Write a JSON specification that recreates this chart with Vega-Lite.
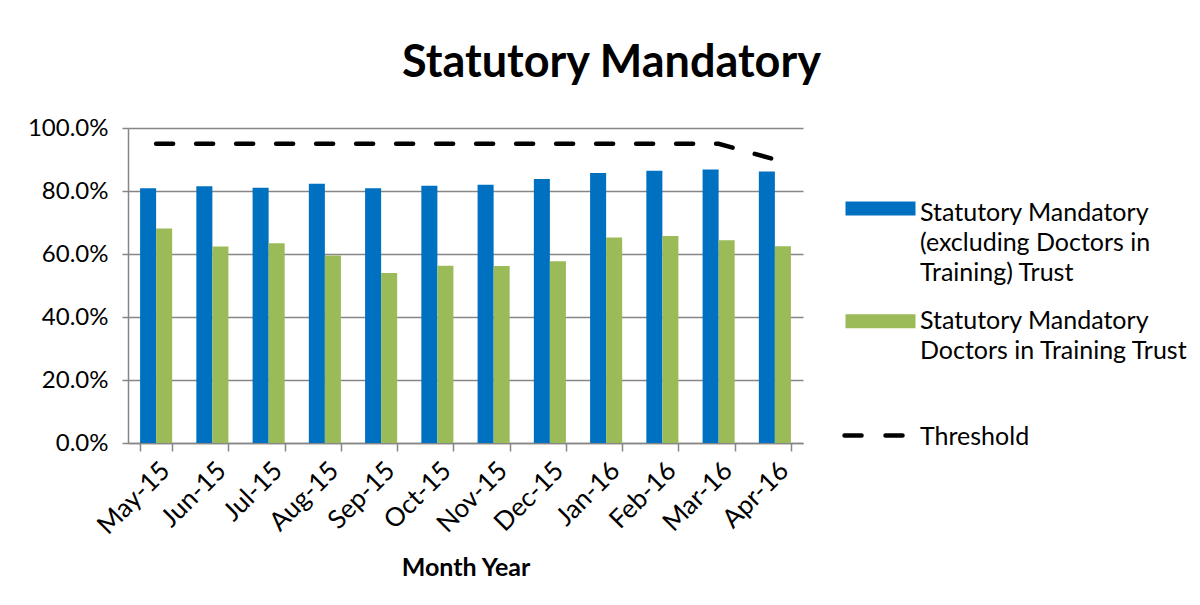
{
  "$schema": "https://vega.github.io/schema/vega-lite/v6.json",
  "autosize": {"type": "none"},
  "padding": {"left": 128, "top": 128, "right": 397, "bottom": 162},
  "width": 675,
  "height": 315,
  "background": "white",
  "title": {
    "text": "Statutory Mandatory",
    "fontSize": 45,
    "font": "Lato",
    "fontWeight": "bold",
    "color": "#000000",
    "anchor": "middle",
    "dx": 146,
    "offset": 30
  },
  "config": {
    "font": "Lato",
    "view": {"stroke": null},
    "axis": {
      "labelFont": "Lato",
      "labelFontSize": 24,
      "labelColor": "#000000",
      "titleFont": "Lato",
      "titleFontSize": 25,
      "titleColor": "#000000",
      "domainColor": "#868686",
      "domainWidth": 1.5,
      "tickColor": "#868686",
      "tickWidth": 1.5,
      "gridColor": "#868686",
      "gridWidth": 1.5
    },
    "legend": {"labelFont": "Lato", "labelFontSize": 25, "labelColor": "#000000", "labelLimit": 500}
  },
  "data": {
    "values": [
      {"month": "May-15", "series": "Statutory Mandatory (excluding Doctors in Training) Trust", "value": 0.809},
      {"month": "Jun-15", "series": "Statutory Mandatory (excluding Doctors in Training) Trust", "value": 0.815},
      {"month": "Jul-15", "series": "Statutory Mandatory (excluding Doctors in Training) Trust", "value": 0.810},
      {"month": "Aug-15", "series": "Statutory Mandatory (excluding Doctors in Training) Trust", "value": 0.823},
      {"month": "Sep-15", "series": "Statutory Mandatory (excluding Doctors in Training) Trust", "value": 0.809},
      {"month": "Oct-15", "series": "Statutory Mandatory (excluding Doctors in Training) Trust", "value": 0.817},
      {"month": "Nov-15", "series": "Statutory Mandatory (excluding Doctors in Training) Trust", "value": 0.820},
      {"month": "Dec-15", "series": "Statutory Mandatory (excluding Doctors in Training) Trust", "value": 0.838},
      {"month": "Jan-16", "series": "Statutory Mandatory (excluding Doctors in Training) Trust", "value": 0.857},
      {"month": "Feb-16", "series": "Statutory Mandatory (excluding Doctors in Training) Trust", "value": 0.864},
      {"month": "Mar-16", "series": "Statutory Mandatory (excluding Doctors in Training) Trust", "value": 0.868},
      {"month": "Apr-16", "series": "Statutory Mandatory (excluding Doctors in Training) Trust", "value": 0.862},
      {"month": "May-15", "series": "Statutory Mandatory Doctors in Training Trust", "value": 0.681},
      {"month": "Jun-15", "series": "Statutory Mandatory Doctors in Training Trust", "value": 0.624},
      {"month": "Jul-15", "series": "Statutory Mandatory Doctors in Training Trust", "value": 0.634},
      {"month": "Aug-15", "series": "Statutory Mandatory Doctors in Training Trust", "value": 0.595},
      {"month": "Sep-15", "series": "Statutory Mandatory Doctors in Training Trust", "value": 0.540},
      {"month": "Oct-15", "series": "Statutory Mandatory Doctors in Training Trust", "value": 0.563},
      {"month": "Nov-15", "series": "Statutory Mandatory Doctors in Training Trust", "value": 0.562},
      {"month": "Dec-15", "series": "Statutory Mandatory Doctors in Training Trust", "value": 0.577},
      {"month": "Jan-16", "series": "Statutory Mandatory Doctors in Training Trust", "value": 0.652},
      {"month": "Feb-16", "series": "Statutory Mandatory Doctors in Training Trust", "value": 0.657},
      {"month": "Mar-16", "series": "Statutory Mandatory Doctors in Training Trust", "value": 0.644},
      {"month": "Apr-16", "series": "Statutory Mandatory Doctors in Training Trust", "value": 0.625},
      {"month": "May-15", "series": "Threshold", "value": 0.95},
      {"month": "Jun-15", "series": "Threshold", "value": 0.95},
      {"month": "Jul-15", "series": "Threshold", "value": 0.95},
      {"month": "Aug-15", "series": "Threshold", "value": 0.95},
      {"month": "Sep-15", "series": "Threshold", "value": 0.95},
      {"month": "Oct-15", "series": "Threshold", "value": 0.95},
      {"month": "Nov-15", "series": "Threshold", "value": 0.95},
      {"month": "Dec-15", "series": "Threshold", "value": 0.95},
      {"month": "Jan-16", "series": "Threshold", "value": 0.95},
      {"month": "Feb-16", "series": "Threshold", "value": 0.95},
      {"month": "Mar-16", "series": "Threshold", "value": 0.95},
      {"month": "Apr-16", "series": "Threshold", "value": 0.90}
    ]
  },
  "encoding": {
    "x": {
      "field": "month",
      "type": "nominal",
      "sort": null,
      "scale": {"paddingInner": 0.43, "paddingOuter": 0.215},
      "axis": {
        "title": "Month Year",
        "titleFontWeight": "bold",
        "titlePadding": 17,
        "labelAngle": -45,
        "labelAlign": "right",
        "labelBaseline": "top",
        "labelFontSize": 26,
        "labelPadding": 6,
        "tickBand": "extent",
        "tickSize": 8,
        "grid": false
      }
    },
    "y": {
      "field": "value",
      "type": "quantitative",
      "scale": {"domain": [0, 1]},
      "axis": {
        "title": null,
        "format": ".1%",
        "values": [0, 0.2, 0.4, 0.6, 0.8, 1],
        "tickSize": 6,
        "labelPadding": 14,
        "grid": true
      }
    },
    "color": {
      "field": "series",
      "type": "nominal",
      "scale": {
        "domain": ["Statutory Mandatory (excluding Doctors in Training) Trust", "Statutory Mandatory Doctors in Training Trust", "Threshold"],
        "range": ["#0070C0", "#9BBB59", "#000000"]
      },
      "legend": {
        "title": null,
        "orient": "none",
        "legendX": 740,
        "legendY": 70,
        "gridAlign": "all",
        "rowPadding": 20,
        "labelOffset": 27,
        "labelBaseline": "top",
        "labelExpr": "datum.value == 'Threshold' ? 'Threshold' : (indexof(datum.value, 'excluding') >= 0 ? ['Statutory Mandatory', '(excluding Doctors in', 'Training) Trust'] : ['Statutory Mandatory', 'Doctors in Training Trust'])",
        "symbolType": "M-5,-1H5V1H-5Z",
        "symbolSize": 196,
        "encode": {
          "labels": {"update": {"lineHeight": {"value": 30}, "dy": {"signal": "datum.value == 'Threshold' ? -2 : -10"}}},
          "symbols": {
            "update": {
              "shape": {"signal": "datum.value == 'Threshold' ? 'M-5.14,1.3H3.7' : (indexof(datum.value, 'excluding') >= 0 ? 'M-5,-1.3H5V0.7H-5Z' : 'M-5,-0.6H5V1.4H-5Z')"},
              "fill": {"signal": "datum.value == 'Threshold' ? 'transparent' : scale('color', datum.value)"},
              "stroke": {"signal": "datum.value == 'Threshold' ? '#000000' : 'transparent'"},
              "strokeWidth": {"signal": "datum.value == 'Threshold' ? 4.5 : 0"},
              "strokeDash": {"signal": "datum.value == 'Threshold' ? [17, 24] : [1, 0]"},
              "strokeCap": {"value": "round"},
              "opacity": {"value": 1}
            }
          }
        }
      }
    }
  },
  "layer": [
    {
      "transform": [{"filter": "datum.series != 'Threshold'"}],
      "mark": {"type": "bar"},
      "encoding": {
        "xOffset": {
          "field": "series",
          "type": "nominal",
          "scale": {"domain": ["Statutory Mandatory (excluding Doctors in Training) Trust", "Statutory Mandatory Doctors in Training Trust"], "paddingInner": 0, "paddingOuter": 0}
        }
      }
    },
    {
      "transform": [{"filter": "datum.series == 'Threshold'"}],
      "mark": {"type": "line", "strokeWidth": 4.5, "strokeDash": [17, 23], "strokeCap": "round"},
      "encoding": {}
    }
  ]
}
